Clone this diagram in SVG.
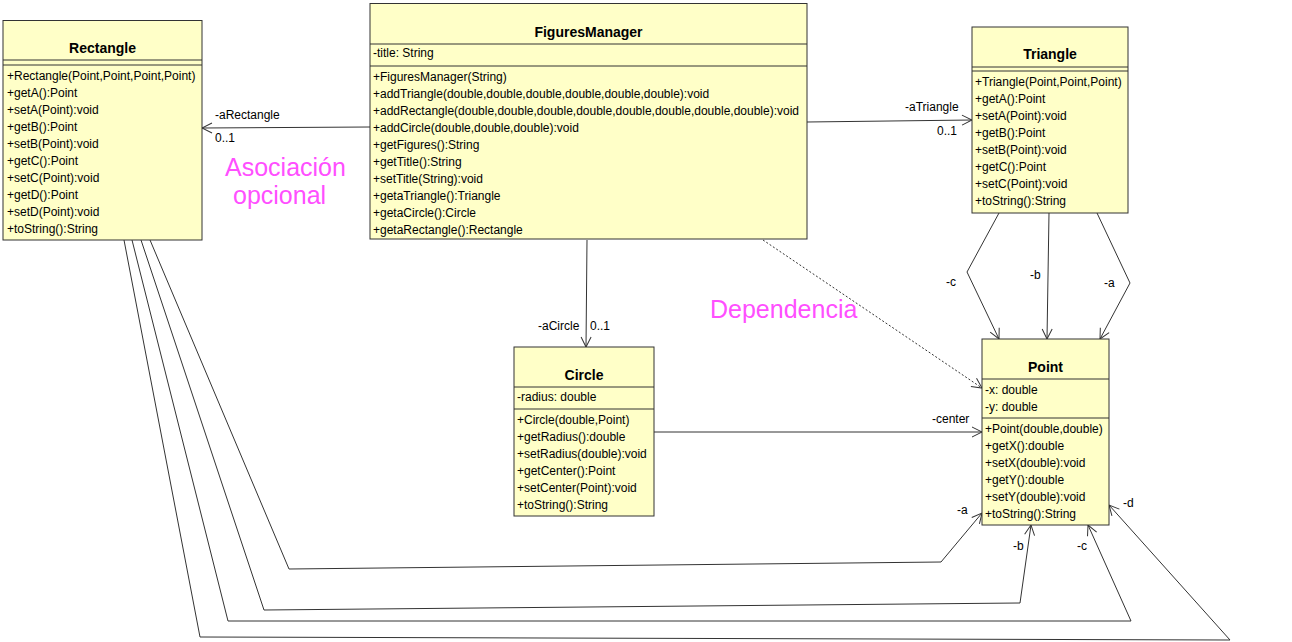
<svg xmlns="http://www.w3.org/2000/svg" width="1292" height="642" viewBox="0 0 1292 642">
<style>
.box{fill:#FFFFC8;stroke:#333;stroke-width:1}
.sep{stroke:#333;stroke-width:1}
.t{font-family:"Liberation Sans",Arial,sans-serif;font-size:12px;fill:#000}
.title{font-family:"Liberation Sans",Arial,sans-serif;font-size:14px;font-weight:bold;fill:#000;text-anchor:middle}
.lbl{font-family:"Liberation Sans",Arial,sans-serif;font-size:12px;fill:#000}
.pink{font-family:"Liberation Sans",Arial,sans-serif;font-size:25px;fill:#FF4FFF}
.c{fill:none;stroke:#333;stroke-width:1}
.d{fill:none;stroke:#333;stroke-width:1;stroke-dasharray:2,2}
</style>
<defs>
<marker id="open" viewBox="0 0 12 12" refX="11" refY="6" markerWidth="12" markerHeight="12" markerUnits="userSpaceOnUse" orient="auto">
<path d="M1,1 L11,6 L1,11" fill="none" stroke="#333" stroke-width="1"/>
</marker>
</defs>
<rect width="1292" height="642" fill="#fff"/>

<g id="connectors">
<path class="c" d="M370,127 L202,128" marker-end="url(#open)"/>
<path class="c" d="M807,122 L972,120" marker-end="url(#open)"/>
<path class="c" d="M587,240 L586,347" marker-end="url(#open)"/>
<path class="d" d="M763,240 L982,388" marker-end="url(#open)"/>
<path class="c" d="M654,432 L982,432" marker-end="url(#open)"/>
<path class="c" d="M999,213 L967,272 L999,339" marker-end="url(#open)"/>
<path class="c" d="M1049,213 L1047,339" marker-end="url(#open)"/>
<path class="c" d="M1097,213 L1130,283 L1100,339" marker-end="url(#open)"/>
<path class="c" d="M150,240 L289,569 L941,562 L982,513" marker-end="url(#open)"/>
<path class="c" d="M141,240 L264,610 L1020,603 L1031,525" marker-end="url(#open)"/>
<path class="c" d="M132,240 L228,621 L1131,621 L1088,525" marker-end="url(#open)"/>
<path class="c" d="M124,240 L200,637 L1230,640 L1109,505" marker-end="url(#open)"/>
<text class="lbl" x="215" y="119">-aRectangle</text>
<text class="lbl" x="215" y="142">0..1</text>
<text class="lbl" x="905" y="111">-aTriangle</text>
<text class="lbl" x="937" y="135">0..1</text>
<text class="lbl" x="538" y="330">-aCircle</text>
<text class="lbl" x="590" y="330">0..1</text>
<text class="lbl" x="932" y="423">-center</text>
<text class="lbl" x="946" y="286">-c</text>
<text class="lbl" x="1030" y="279">-b</text>
<text class="lbl" x="1104" y="287">-a</text>
<text class="lbl" x="957" y="514">-a</text>
<text class="lbl" x="1013" y="550">-b</text>
<text class="lbl" x="1077" y="550">-c</text>
<text class="lbl" x="1123" y="507">-d</text>
</g>

<g id="Rectangle">
<rect class="box" x="3" y="20.5" width="199" height="219.5"/>
<line class="sep" x1="3" y1="60" x2="202" y2="60"/>
<line class="sep" x1="3" y1="65" x2="202" y2="65"/>
<text class="title" x="102.5" y="53">Rectangle</text>
<text class="t" x="7" y="80">+Rectangle(Point,Point,Point,Point)</text>
<text class="t" x="7" y="97">+getA():Point</text>
<text class="t" x="7" y="114">+setA(Point):void</text>
<text class="t" x="7" y="131">+getB():Point</text>
<text class="t" x="7" y="148">+setB(Point):void</text>
<text class="t" x="7" y="165">+getC():Point</text>
<text class="t" x="7" y="182">+setC(Point):void</text>
<text class="t" x="7" y="199">+getD():Point</text>
<text class="t" x="7" y="216">+setD(Point):void</text>
<text class="t" x="7" y="233">+toString():String</text>
</g>

<g id="FiguresManager">
<rect class="box" x="370" y="3.5" width="437" height="235.5"/>
<line class="sep" x1="370" y1="44" x2="807" y2="44"/>
<line class="sep" x1="370" y1="66" x2="807" y2="66"/>
<text class="title" x="588.5" y="37">FiguresManager</text>
<text class="t" x="373" y="57">-title: String</text>
<text class="t" x="373" y="81">+FiguresManager(String)</text>
<text class="t" x="373" y="98">+addTriangle(double,double,double,double,double,double):void</text>
<text class="t" x="373" y="115">+addRectangle(double,double,double,double,double,double,double,double):void</text>
<text class="t" x="373" y="132">+addCircle(double,double,double):void</text>
<text class="t" x="373" y="149">+getFigures():String</text>
<text class="t" x="373" y="166">+getTitle():String</text>
<text class="t" x="373" y="183">+setTitle(String):void</text>
<text class="t" x="373" y="200">+getaTriangle():Triangle</text>
<text class="t" x="373" y="217">+getaCircle():Circle</text>
<text class="t" x="373" y="234">+getaRectangle():Rectangle</text>
</g>

<g id="Triangle">
<rect class="box" x="972" y="27" width="156" height="186"/>
<line class="sep" x1="972" y1="67" x2="1128" y2="67"/>
<line class="sep" x1="972" y1="71" x2="1128" y2="71"/>
<text class="title" x="1050" y="59">Triangle</text>
<text class="t" x="975" y="86">+Triangle(Point,Point,Point)</text>
<text class="t" x="975" y="103">+getA():Point</text>
<text class="t" x="975" y="120">+setA(Point):void</text>
<text class="t" x="975" y="137">+getB():Point</text>
<text class="t" x="975" y="154">+setB(Point):void</text>
<text class="t" x="975" y="171">+getC():Point</text>
<text class="t" x="975" y="188">+setC(Point):void</text>
<text class="t" x="975" y="205">+toString():String</text>
</g>

<g id="Circle">
<rect class="box" x="514" y="347" width="140" height="169"/>
<line class="sep" x1="514" y1="387" x2="654" y2="387"/>
<line class="sep" x1="514" y1="409" x2="654" y2="409"/>
<text class="title" x="584" y="380">Circle</text>
<text class="t" x="517" y="401">-radius: double</text>
<text class="t" x="517" y="424">+Circle(double,Point)</text>
<text class="t" x="517" y="441">+getRadius():double</text>
<text class="t" x="517" y="458">+setRadius(double):void</text>
<text class="t" x="517" y="475">+getCenter():Point</text>
<text class="t" x="517" y="492">+setCenter(Point):void</text>
<text class="t" x="517" y="509">+toString():String</text>
</g>

<g id="Point">
<rect class="box" x="982" y="339" width="127" height="186"/>
<line class="sep" x1="982" y1="379" x2="1109" y2="379"/>
<line class="sep" x1="982" y1="418" x2="1109" y2="418"/>
<text class="title" x="1045.5" y="372">Point</text>
<text class="t" x="985" y="394">-x: double</text>
<text class="t" x="985" y="411">-y: double</text>
<text class="t" x="985" y="433">+Point(double,double)</text>
<text class="t" x="985" y="450">+getX():double</text>
<text class="t" x="985" y="467">+setX(double):void</text>
<text class="t" x="985" y="484">+getY():double</text>
<text class="t" x="985" y="501">+setY(double):void</text>
<text class="t" x="985" y="518">+toString():String</text>
</g>

<g id="notes">
<text class="pink" x="225" y="176">Asociación</text>
<text class="pink" x="233" y="204">opcional</text>
<text class="pink" x="710" y="318">Dependencia</text>
</g>
</svg>
